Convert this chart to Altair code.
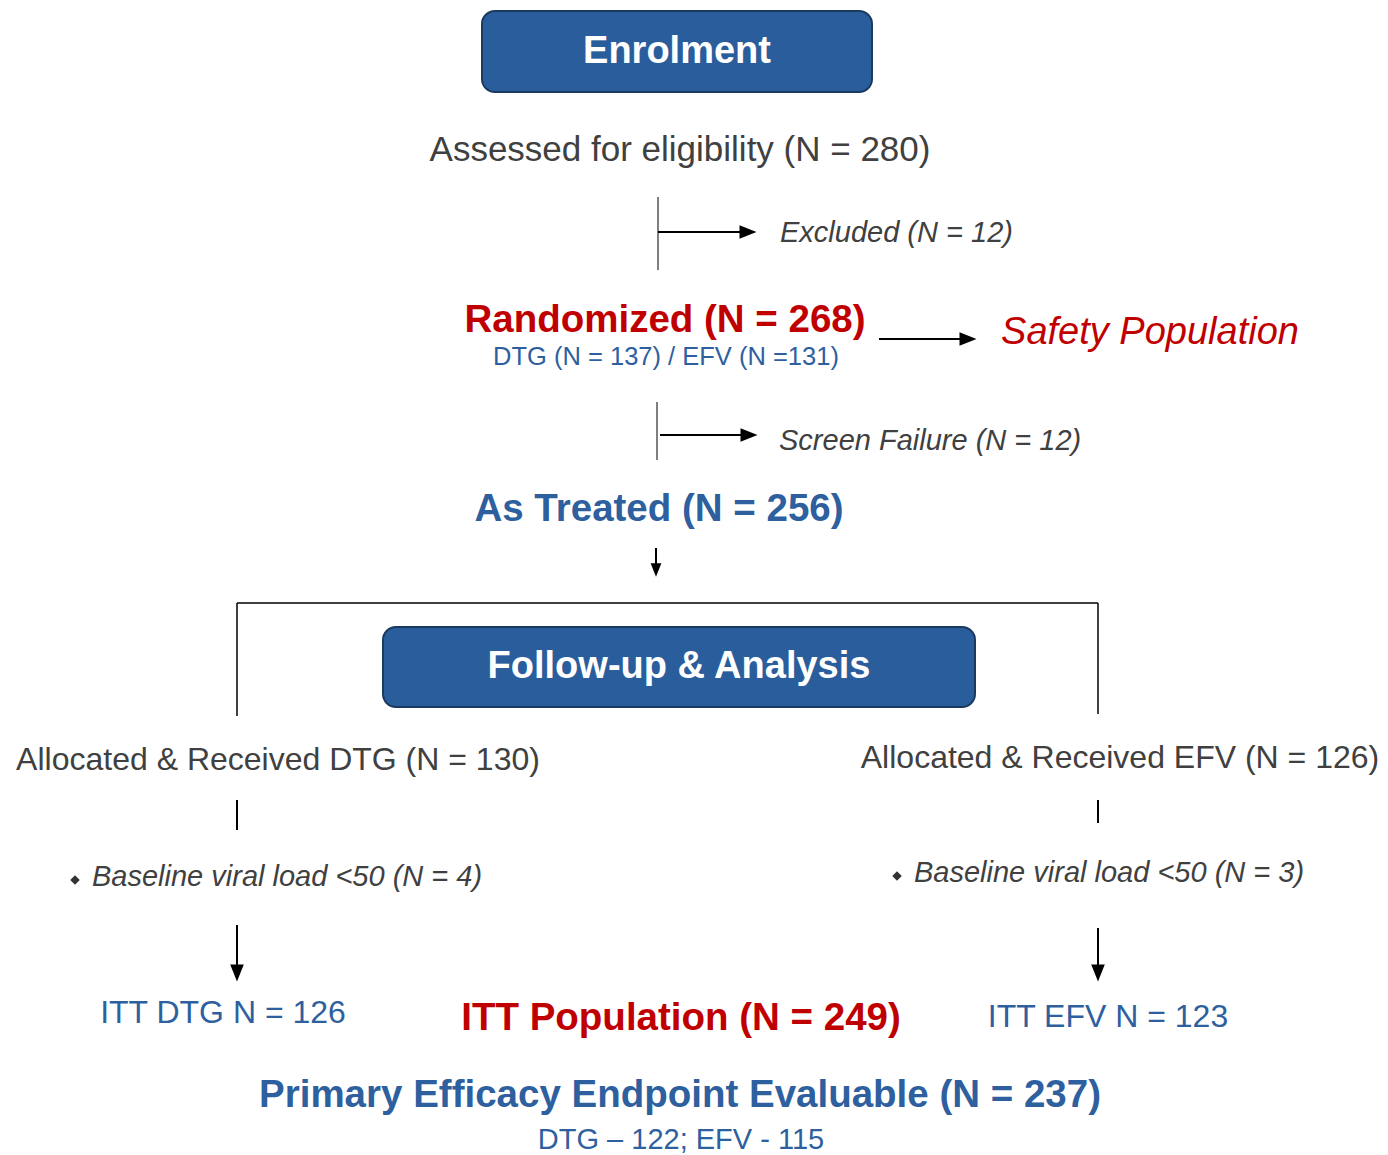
import altair as alt
import pandas as pd

# ---------------- data (text content) ----------------
HEADINGS = ["Enrolment", "Follow-up & Analysis"]

LABELS = [
    "Assessed for eligibility (N = 280)",
    "Excluded (N = 12)",
    "Randomized (N = 268)",
    "DTG (N = 137) / EFV (N =131)",
    "Safety Population",
    "Screen Failure (N = 12)",
    "As Treated (N = 256)",
    "Allocated & Received DTG (N = 130)",
    "Allocated & Received EFV (N = 126)",
    "Baseline viral load <50 (N = 4)",
    "Baseline viral load <50 (N = 3)",
    "ITT DTG N = 126",
    "ITT Population (N = 249)",
    "ITT EFV N = 123",
    "Primary Efficacy Endpoint Evaluable (N = 237)",
    "DTG \u2013 122; EFV - 115",
]

# ---------------- layout (positions, image pixel coords) ----------------
BOX_X = [482, 383]
BOX_X2 = [872, 975]
BOX_Y = [11, 627]
BOX_Y2 = [92, 707]

LABEL_X = [680, 780, 665, 666, 1150, 779, 659, 278, 1120, 92, 914, 223, 681, 1108, 680, 681]
LABEL_Y = [150, 233, 320, 357, 333, 441, 509, 760, 758, 877, 873, 1013, 1018, 1017, 1095, 1140]
LABEL_STYLE = ["gray", "grayit", "redb", "blue_s", "redit", "grayit", "blueb", "gray_m", "gray_m",
               "grayit", "grayit", "blue_m", "redb", "blue_m", "blueb", "blue_sm"]

# lines: x, y, x2, y2, kind
LINE_X = [658, 658, 879, 657, 660, 656, 237, 237, 1098, 237, 1098, 237, 1098]
LINE_Y = [197, 232, 339, 402, 435, 548, 603, 603, 603, 800, 800, 925, 928]
LINE_X2 = [658, 742, 962, 657, 742, 656, 1098, 237, 1098, 237, 1098, 237, 1098]
LINE_Y2 = [270, 232, 339, 460, 435, 566, 603, 716, 714, 830, 823, 966, 966]
LINE_KIND = ["thin", "arrow", "arrow", "thin", "arrow", "arrow", "frame", "frame", "frame",
             "arrow", "arrow", "arrow", "arrow"]

# arrow heads
HEAD_X = [748, 968, 749]
HEAD_Y = [232, 339, 435]
HEADD_X = [656, 237, 1098]
HEADD_Y = [570, 973, 973]
HEADD_SIZE = [180, 289, 289]

BULLET_X = [75, 897]
BULLET_Y = [880, 876]

# ---------------- styles ----------------
BLUE_BOX = "#2a5d9c"
BOX_STROKE = "#1b3a60"
RED = "#c00000"
BLUE = "#2e5f9e"
GRAY = "#404040"
FONT = "Liberation Sans"

STYLES = {
    "gray":    dict(color=GRAY, fontSize=35, fontWeight="normal", fontStyle="normal", align="center"),
    "gray_m":  dict(color=GRAY, fontSize=32, fontWeight="normal", fontStyle="normal", align="center"),
    "grayit":  dict(color=GRAY, fontSize=29, fontWeight="normal", fontStyle="italic", align="left"),
    "redb":    dict(color=RED, fontSize=38.5, fontWeight="bold", fontStyle="normal", align="center"),
    "redit":   dict(color=RED, fontSize=38, fontWeight="normal", fontStyle="italic", align="center"),
    "blueb":   dict(color=BLUE, fontSize=38.5, fontWeight="bold", fontStyle="normal", align="center"),
    "blue_s":  dict(color=BLUE, fontSize=25.5, fontWeight="normal", fontStyle="normal", align="center"),
    "blue_m":  dict(color=BLUE, fontSize=32, fontWeight="normal", fontStyle="normal", align="center"),
    "blue_sm": dict(color=BLUE, fontSize=29, fontWeight="normal", fontStyle="normal", align="center"),
}
LINE_STYLES = {
    "thin": dict(color="#555555", strokeWidth=1.5),
    "arrow": dict(color="#000000", strokeWidth=2),
    "frame": dict(color="#000000", strokeWidth=1.5),
}

W, H = 1372, 1147
xs = alt.Scale(domain=[8, 8 + W], nice=False, zero=False)
ys = alt.Scale(domain=[8, 8 + H], nice=False, zero=False, reverse=True)


def X(f="x"):
    return alt.X(f"{f}:Q", scale=xs, axis=None)


def Y(f="y"):
    return alt.Y(f"{f}:Q", scale=ys, axis=None)


layers = []

# boxes
boxes = pd.DataFrame({"x": BOX_X, "x2": BOX_X2, "y": BOX_Y, "y2": BOX_Y2, "t": HEADINGS})
boxes["cx"] = (boxes["x"] + boxes["x2"]) / 2
boxes["cy"] = (boxes["y"] + boxes["y2"]) / 2
layers.append(
    alt.Chart(boxes).mark_rect(cornerRadius=13, fill=BLUE_BOX, stroke=BOX_STROKE, strokeWidth=2)
    .encode(x=X(), x2="x2:Q", y=Y(), y2="y2:Q")
)
layers.append(
    alt.Chart(boxes).mark_text(font=FONT, fontSize=38, fontWeight="bold", color="white",
                               align="center", baseline="middle")
    .encode(x=X("cx"), y=Y("cy"), text="t:N")
)

# lines
lines = pd.DataFrame({"x": LINE_X, "y": LINE_Y, "x2": LINE_X2, "y2": LINE_Y2, "k": LINE_KIND})
for kind, st in LINE_STYLES.items():
    sub = lines[lines["k"] == kind]
    layers.append(
        alt.Chart(sub).mark_rule(**st).encode(x=X(), y=Y(), x2="x2:Q", y2="y2:Q")
    )

# arrow heads
hr = pd.DataFrame({"x": HEAD_X, "y": HEAD_Y})
layers.append(
    alt.Chart(hr).mark_point(shape="M-1,-0.8L1,0L-1,0.8Z", filled=True, opacity=1,
                             color="black", size=289, strokeWidth=0)
    .encode(x=X(), y=Y())
)
hd = pd.DataFrame({"x": HEADD_X, "y": HEADD_Y, "s": HEADD_SIZE})
layers.append(
    alt.Chart(hd).mark_point(shape="M-0.8,-1L0,1L0.8,-1Z", filled=True, opacity=1,
                             color="black", strokeWidth=0)
    .encode(x=X(), y=Y(), size=alt.Size("s:Q", scale=None, legend=None))
)

# bullets
bl = pd.DataFrame({"x": BULLET_X, "y": BULLET_Y})
layers.append(
    alt.Chart(bl).mark_point(shape="diamond", filled=True, opacity=1, color="#333333",
                             size=90, strokeWidth=0)
    .encode(x=X(), y=Y())
)

# labels
lab = pd.DataFrame({"t": LABELS, "x": LABEL_X, "y": LABEL_Y, "s": LABEL_STYLE})
for name, st in STYLES.items():
    sub = lab[lab["s"] == name]
    if len(sub) == 0:
        continue
    layers.append(
        alt.Chart(sub).mark_text(font=FONT, baseline="middle", **st)
        .encode(x=X(), y=Y(), text="t:N")
    )

chart = (
    alt.layer(*layers)
    .properties(width=W, height=H, autosize=alt.AutoSizeParams(type="none"), padding=0,
                background="white")
    .configure_view(stroke=None)
)

chart.save("out.html", embed_options={"renderer": "svg", "actions": False})
